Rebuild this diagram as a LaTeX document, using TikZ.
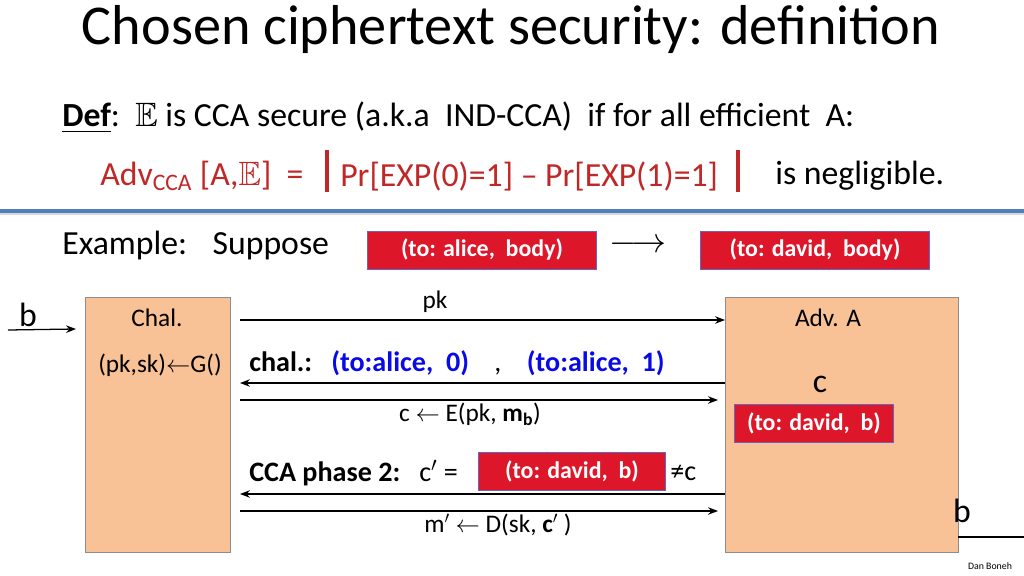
\documentclass[tikz,border=0pt]{standalone}
\usepackage{fontspec}
\usepackage{amssymb}
\setmainfont{Carlito}
\usetikzlibrary{arrows.meta,patterns}
\definecolor{peach}{RGB}{248,194,150}
\definecolor{advred}{RGB}{192,40,40}
\definecolor{msgred}{RGB}{222,22,42}
\definecolor{rulecol}{RGB}{79,129,189}
\definecolor{chalblue}{RGB}{10,10,230}
\tikzset{
  party/.style={draw=black!45, fill=peach, line width=0.6pt},
  msgbox/.style={draw=black!40!blue!60, fill=msgred, text=white, font=\fontsize{17}{17}\selectfont\bfseries, minimum height=27pt, inner xsep=3pt},
  txt/.style={font=\fontsize{24}{24}\selectfont, anchor=west, inner sep=0},
  lbl/.style={font=\fontsize{18}{18}\selectfont, inner sep=0},
  flow/.style={-Stealth, line width=0.9pt},
}
\begin{document}
\begin{tikzpicture}[x=0.025cm,y=-0.025cm]
  \useasboundingbox (0,0) rectangle (1024,576);
  \node[font=\fontsize{40}{40}\selectfont, inner sep=0] (title) at (511,30) {Chosen ciphertext security: definition};
  % definition
  \node[txt] (def) at (62,118) {\textbf{\underline{Def}}:~~$\mathbb{E}$ is CCA secure (a.k.a~ IND-CCA)~ if for all efficient~ A:};
  \node[txt, text=advred] (adv) at (100,176) {Adv\textsubscript{CCA} [A,$\mathbb{E}$]~ =};
  \node[txt, text=advred] (pr) at (340,176) {Pr[EXP(0)=1] -- Pr[EXP(1)=1]};
  \draw[advred, line width=2.4pt] (327,150) -- (327,192) (738,150) -- (738,192);
  \node[txt] (negl) at (775,176) {is negligible.};
  \fill[black!15] (0,212) rectangle (1024,215);
  \draw[rulecol, line width=2.4pt] (0,211) -- (1024,211);
  % example
  \node[txt] (ex) at (62,246) {Example:~~ Suppose};
  \node[msgbox, minimum width=230*0.709pt] (m0) at (482,250) {(to: alice,~ body)};
  \node[msgbox, minimum width=230*0.709pt] (m1) at (815,250) {(to: david,~ body)};
  \node[font=\fontsize{24}{24}\selectfont] (to) at (638,246) {$\longrightarrow$};
  % parties
  \draw[party] (85,297) rectangle (230,552);
  \draw[party] (725,297) rectangle (958,552);
  \node[lbl] (chal) at (157,318) {Chal.};
  \node[lbl] (gen) at (160,365) {(pk,sk)$\leftarrow$G()};
  \node[lbl] (advA) at (828,318) {Adv. A};
  \node[font=\fontsize{24}{24}\selectfont, inner sep=0] (c) at (820,384) {c};
  \node[msgbox, minimum width=160*0.709pt] (cd) at (814,423) {(to: david,~ b)};
  % b in and out
  \node[font=\fontsize{24}{24}\selectfont, inner sep=0] (bin) at (28,315) {b};
  \coordinate (bs) at (8,330); \coordinate (be) at (76,329);
  \draw[flow] (bs) -- (be);
  \node[font=\fontsize{24}{24}\selectfont, inner sep=0] (bout) at (962,511) {b};
  \coordinate (os) at (958,537); \coordinate (oe) at (1024,537);
  \draw[line width=0.9pt] (os) -- (oe);
  % messages
  \coordinate (c1) at (240,320); \coordinate (a1) at (725,320);
  \coordinate (a2) at (725,383); \coordinate (c2) at (240,383);
  \coordinate (c3) at (240,400); \coordinate (a3) at (718,400);
  \coordinate (a4) at (725,494); \coordinate (c4) at (240,494);
  \coordinate (c5) at (240,511); \coordinate (a5) at (718,511);
  \draw[flow] (c1) -- (a1);
  \draw[flow] (a2) -- (c2);
  \draw[flow] (c3) -- (a3);
  \draw[flow] (a4) -- (c4);
  \draw[flow] (c5) -- (a5);
  \node[lbl] (pk) at (435,302) {pk};
  \node[lbl, anchor=west, font=\fontsize{20}{20}\selectfont] (q) at (249,363) {\textbf{chal.:}~~~\textcolor{chalblue}{\textbf{(to:alice,~ 0)}}~~~~,~~~~\textcolor{chalblue}{\textbf{(to:alice,~ 1)}}};
  \node[lbl] (enc) at (470,414) {c $\leftarrow$ E(pk, \textbf{m\textsubscript{b}})};
  \node[lbl, anchor=west, font=\fontsize{20}{20}\selectfont] (ph2) at (249,473) {\textbf{CCA phase 2:}~~~c$'$ =};
  \node[msgbox, minimum width=188*0.709pt] (cp) at (572,471) {(to: david,~ b)};
  \node[lbl, anchor=west, font=\fontsize{20}{20}\selectfont] (neq) at (670,473) {≠c};
  \node[lbl] (dec) at (498,525) {m$'$ $\leftarrow$ D(sk, \textbf{c$'$} )};
  \node[font=\fontsize{7}{7}\selectfont, inner sep=0] (name) at (990,566) {Dan Boneh};
\end{tikzpicture}
\end{document}
